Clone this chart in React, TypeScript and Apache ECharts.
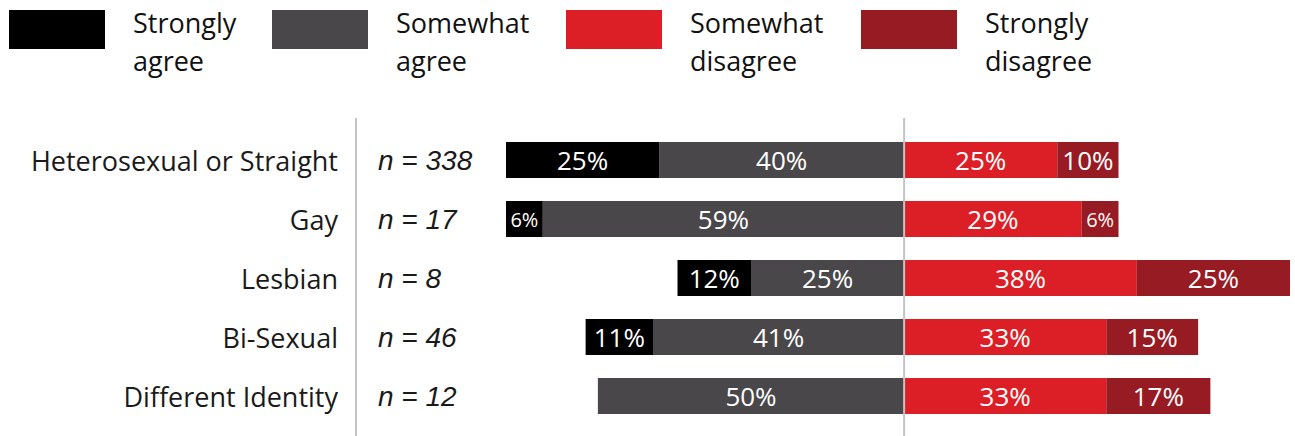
import React, { useEffect, useRef } from "react";
import * as echarts from "echarts";

const categories = ["Heterosexual or Straight", "Gay", "Lesbian", "Bi-Sexual", "Different Identity"];
const nLabels = ["n = 338", "n = 17", "n = 8", "n = 46", "n = 12"];
const stronglyAgree = [25, 6, 12, 11, 0];
const somewhatAgree = [40, 59, 25, 41, 50];
const somewhatDisagree = [25, 29, 38, 33, 33];
const stronglyDisagree = [10, 6, 25, 15, 17];
const legendNames = ["Strongly\nagree", "Somewhat\nagree", "Somewhat\ndisagree", "Strongly\ndisagree"];
const colors = ["#000000", "#4a474a", "#dc1f26", "#971b23"];

const FONT = "Open Sans";

function mkData(values: number[], sign: number) {
  return values.map((v) => ({
    value: v === 0 ? null : sign * v,
    label: { fontSize: v < 8 ? 20 : 26 },
  }));
}

export default function App() {
  const ref = useRef<HTMLDivElement>(null);
  useEffect(() => {
    if (!ref.current) return;
    const chart = echarts.init(ref.current, null, { renderer: "svg" });
    const label = {
      show: true,
      position: "inside",
      color: "#ffffff",
      fontFamily: FONT,
      fontSize: 26,
      formatter: (p: any) => (p.value == null ? "" : Math.abs(p.value) + "%"),
    };
    const legendX = [9, 272, 566, 861];
    const legendGraphic: any[] = [];
    legendNames.forEach((name, i) => {
      legendGraphic.push({
        type: "rect",
        shape: { x: legendX[i], y: 10, width: 96, height: 39 },
        style: { fill: colors[i] },
      });
      legendGraphic.push({
        type: "text",
        x: legendX[i] + 124,
        y: 3,
        style: {
          text: name,
          font: `27px ${FONT}`,
          fill: "#111111",
          lineHeight: 38,
          textVerticalAlign: "top",
        },
      });
    });
    chart.setOption({
      animation: false,
      grid: { left: 506, right: 5, top: 130.5, bottom: 10.5, containLabel: false },
      xAxis: {
        type: "value",
        min: -65,
        max: 63,
        show: false,
      },
      yAxis: [
        {
          type: "category",
          data: categories,
          inverse: true,
          position: "left",
          axisLine: { show: false },
          axisTick: { show: false },
          axisLabel: { margin: 168, fontSize: 27, color: "#1a1a1a", fontFamily: FONT },
        },
        {
          type: "category",
          data: nLabels,
          inverse: true,
          position: "left",
          axisLine: { show: false },
          axisTick: { show: false },
          axisLabel: {
            margin: 128,
            align: "left",
            fontSize: 28,
            fontStyle: "italic",
            color: "#1a1a1a",
            fontFamily: "Liberation Sans",
          },
        },
      ],
      series: [
        { name: legendNames[1], type: "bar", stack: "t", barWidth: 36, itemStyle: { color: colors[1] }, label, data: mkData(somewhatAgree, -1) },
        { name: legendNames[0], type: "bar", stack: "t", barWidth: 36, itemStyle: { color: colors[0] }, label, data: mkData(stronglyAgree, -1) },
        { name: legendNames[2], type: "bar", stack: "t", barWidth: 36, itemStyle: { color: colors[2] }, label, data: mkData(somewhatDisagree, 1) },
        { name: legendNames[3], type: "bar", stack: "t", barWidth: 36, itemStyle: { color: colors[3] }, label, data: mkData(stronglyDisagree, 1) },
      ],
      graphic: legendGraphic,
    });
    const x0 = chart.convertToPixel({ xAxisIndex: 0 }, 0) as number;
    chart.setOption({
      graphic: [
        ...legendGraphic,
        { type: "line", z: 100, shape: { x1: 356, y1: 118, x2: 356, y2: 436 }, style: { stroke: "#c4c4c4", lineWidth: 2 } },
        { type: "line", z: 100, shape: { x1: x0, y1: 118, x2: x0, y2: 436 }, style: { stroke: "#c4c4c4", lineWidth: 2 } },
      ],
    });
    return () => chart.dispose();
  }, []);
  return <div ref={ref} style={{ width: 1295, height: 436, position: "absolute", left: 0, top: 0 }} />;
}
